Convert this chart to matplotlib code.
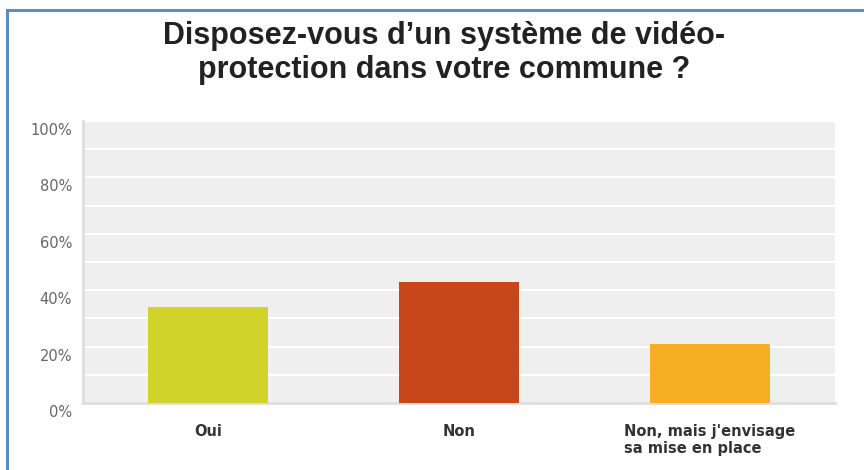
import matplotlib
matplotlib.use("Agg")
import matplotlib.pyplot as plt
from matplotlib.lines import Line2D
from matplotlib.transforms import ScaledTranslation

categories = ["Oui", "Non", "Non, mais j'envisage\nsa mise en place"]
values = [34, 43, 21]
colors = ["#D0D42A", "#C8461B", "#F5AF20"]
yticks = [0, 20, 40, 60, 80, 100]
ytick_labels = ["0%", "20%", "40%", "60%", "80%", "100%"]
title = "Disposez-vous d’un système de vidéo-\nprotection dans votre commune ?"

fig = plt.figure(figsize=(8.64, 4.70), dpi=100)
fig.patch.set_facecolor("white")
ax = fig.add_axes([83/864, 1-403/470, (835-83)/864, (403-121)/470])
ax.set_facecolor("#EFEFEF")

x = list(range(len(categories)))
ax.bar(x, values, width=0.48, color=colors, zorder=3)
ax.set_xlim(-0.5, 2.5)
ax.set_ylim(0, 100)

ax.set_yticks(yticks)
ax.set_yticklabels(ytick_labels, fontsize=10.5, color="#666666", family="DejaVu Sans")
ax.set_yticks(range(10, 100, 20), minor=True)
ax.grid(True, which="both", axis="y", color="white", linewidth=1.5, zorder=1)
ax.tick_params(axis="y", which="both", length=0, pad=8)
for lab in ax.get_yticklabels():
    lab.set_transform(lab.get_transform() + ScaledTranslation(0, -8/100, fig.dpi_scale_trans))

ax.set_xticks(x)
ax.set_xticklabels(categories, fontsize=10.5, fontweight="bold", color="#333333", family="DejaVu Sans")
ax.get_xticklabels()[2].set_multialignment("left")
ax.tick_params(axis="x", length=0, pad=15)

for s in ["top", "right"]:
    ax.spines[s].set_visible(False)
ax.spines["left"].set_color("#DDDDDD")
ax.spines["left"].set_linewidth(2)
ax.spines["bottom"].set_color("#DDDDDD")
ax.spines["bottom"].set_linewidth(2)

fig.text(444/864, 1-53/470, title, ha="center", va="center", fontsize=22,
         fontweight="bold", family="Liberation Sans", color="#222222", linespacing=1.2)

# blue frame (top and left edges)
fig.add_artist(Line2D([7/864, 1], [1-10/470, 1-10/470], transform=fig.transFigure,
                      color="#5B8BC9", linewidth=2.2))
fig.add_artist(Line2D([7/864, 7/864], [0, 1-10/470], transform=fig.transFigure,
                      color="#5B8BC9", linewidth=2.2))

fig.savefig("out.png", dpi=100)
